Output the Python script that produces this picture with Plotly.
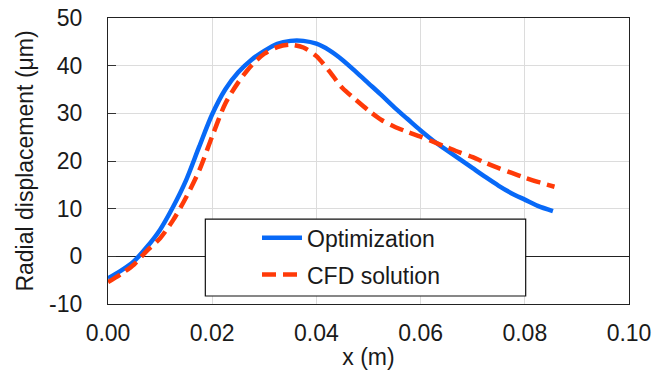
import plotly.graph_objects as go

# Data
x_opt = [0.0, 0.0025, 0.005, 0.0075, 0.01, 0.0125, 0.015, 0.0175, 0.02, 0.0225,
         0.025, 0.0275, 0.03, 0.0325, 0.035, 0.0375, 0.04, 0.0425, 0.045, 0.0475,
         0.05, 0.0525, 0.055, 0.0575, 0.06, 0.0625, 0.065, 0.0675, 0.07, 0.0725,
         0.075, 0.0775, 0.08, 0.0825, 0.0854]
y_opt = [-4.6, -3.0, -1.0, 2.0, 5.6, 10.4, 16.0, 23.0, 29.8, 35.0,
         38.6, 41.2, 43.1, 44.6, 45.2, 45.2, 44.6, 43.2, 41.2, 38.8,
         36.3, 33.8, 31.2, 28.8, 26.4, 24.2, 22.3, 20.4, 18.5, 16.6,
         14.8, 13.2, 11.9, 10.6, 9.5]

x_cfd = [0.0, 0.0025, 0.005, 0.0075, 0.01, 0.0125, 0.015, 0.0175, 0.02, 0.0225,
         0.025, 0.0275, 0.03, 0.0325, 0.035, 0.0375, 0.04, 0.0425, 0.045, 0.0475,
         0.05, 0.0525, 0.055, 0.0575, 0.06, 0.0625, 0.065, 0.0675, 0.07, 0.0725,
         0.075, 0.0775, 0.08, 0.0825, 0.0857]
y_cfd = [-5.4, -3.7, -1.7, 1.2, 3.8, 7.6, 12.4, 18.0, 25.2, 32.0,
         36.5, 40.0, 42.5, 43.9, 44.4, 43.8, 42.0, 38.8, 35.3, 32.9,
         30.6, 28.6, 27.2, 26.1, 25.1, 24.0, 22.9, 21.8, 20.8, 19.6,
         18.5, 17.5, 16.5, 15.6, 14.6]

series_names = ["Optimization", "CFD solution"]
x_tick_vals = [0.0, 0.02, 0.04, 0.06, 0.08, 0.10]
x_tick_text = ["0.00", "0.02", "0.04", "0.06", "0.08", "0.10"]
y_tick_vals = [-10, 0, 10, 20, 30, 40, 50]
y_tick_text = ["-10", "0", "10", "20", "30", "40", "50"]

FONT = "Arial, Liberation Sans, sans-serif"

fig = go.Figure()
fig.add_trace(go.Scatter(x=x_opt, y=y_opt, mode="lines", name=series_names[0],
                         legendgroup="a",
                         line=dict(color="#0869F7", width=4.5, shape="spline", smoothing=0.8)))
fig.add_trace(go.Scatter(x=x_cfd, y=y_cfd, mode="lines", name=series_names[1],
                         legendgroup="b",
                         line=dict(color="#FF3A08", width=4.5, dash="14px,7px",
                                   shape="spline", smoothing=0.8)))

fig.update_layout(
    width=661, height=374,
    margin=dict(l=107.5, r=31.5, t=18, b=70),
    paper_bgcolor="white", plot_bgcolor="white",
    font=dict(family=FONT, size=23, color="#1a1a1a"),
    showlegend=True,
    legend=dict(x=0.286, y=0.307, xanchor="left", yanchor="top",
                bgcolor="rgba(0,0,0,0)", borderwidth=0,
                font=dict(size=23), itemwidth=40,
                traceorder="grouped", tracegroupgap=4),
    shapes=[dict(type="rect", xref="paper", yref="paper",
                 x0=0.1868, x1=0.8017, y0=0.028, y1=0.297,
                 fillcolor="white", line=dict(color="#111111", width=1.2),
                 layer="above")],
)
fig.update_xaxes(range=[0, 0.1], tickvals=x_tick_vals, ticktext=x_tick_text,
                 automargin=False,
                 showgrid=True, gridcolor="#DCDCDC", gridwidth=1.3,
                 showline=True, linecolor="#222222", linewidth=1.3, mirror=True,
                 ticks="", zeroline=False, ticklabelstandoff=8,
                 title=dict(text="x (m)", font=dict(size=23), standoff=4))
fig.update_yaxes(range=[-10, 50], tickvals=y_tick_vals, ticktext=y_tick_text,
                 automargin=False,
                 showgrid=True, gridcolor="#DCDCDC", gridwidth=1.3,
                 showline=True, linecolor="#222222", linewidth=1.3, mirror=True,
                 ticks="inside", ticklen=8, tickcolor="#333333", tickwidth=1.2,
                 zeroline=True, zerolinecolor="#222222", zerolinewidth=1.2,
                 ticklabelstandoff=20,
                 title=dict(text="Radial displacement (μm)", font=dict(size=23), standoff=8))

fig.write_html("out.html",
               config={"displayModeBar": False},
               post_script="document.body.style.margin='0';document.body.style.overflow='hidden';")
